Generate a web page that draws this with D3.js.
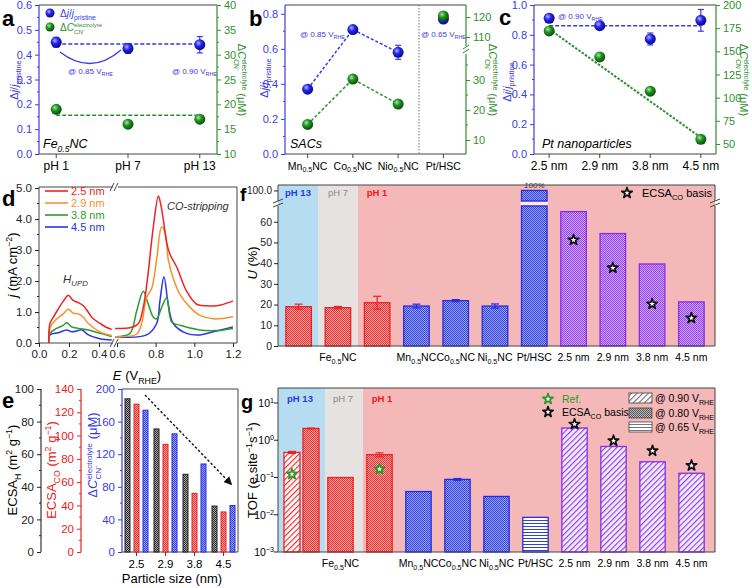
<!DOCTYPE html>
<html><head><meta charset="utf-8">
<script src="https://cdn.jsdelivr.net/npm/d3@7"></script>
<style>body{margin:0;background:#fff}svg{display:block}text{font-family:"Liberation Sans",Arial,sans-serif;white-space:pre}</style>
</head><body><svg id="c" width="752" height="588"></svg>
<script>
// ---------------- DATA ----------------
// panel a
const phLabels = ["pH 1", "pH 7", "pH 13"];
const aDj = [0.45, 0.425, 0.44];
const aDjErr = [0.02, 0.02, 0.033];
const aDC = [19, 16, 17];
const aDjMean = 0.443, aDCMean = 17.8;
// panel b
const sacLabels = ["Mn_{0.5}NC", "Co_{0.5}NC", "Nio_{0.5}NC", "Pt/HSC"];
const bDj = [0.37, 0.71, 0.58, 0.77];
const bDjErr = [0.015, 0.01, 0.04, 0.02];
const bDC = [15.2, 30.3, 22, 120.5];
// panel c
const sizeLabels = ["2.5 nm", "2.9 nm", "3.8 nm", "4.5 nm"];
const cDj = [0.911, 0.861, 0.772, 0.897];
const cDjErr = [0.01, 0.01, 0.04, 0.073];
const cDC = [172, 144, 107, 55];
const cDjMean = 0.86, cDCFit = [174, 57];
// panel d  ([E (V), j (mA cm-2)])
const dSizes = ["2.5 nm", "2.9 nm", "3.8 nm", "4.5 nm"];
const hupd25 = [[0.065,0],[0.073,0.63],[0.095,0.83],[0.129,1.1],[0.162,1.35],[0.196,1.54],[0.225,1.38],[0.262,1.3],[0.296,1.2],[0.329,0.99],[0.362,0.78],[0.407,0.63],[0.451,0.5],[0.485,0.44]];
const hupd29 = [[0.065,0],[0.073,0.47],[0.108,0.73],[0.162,0.94],[0.196,1.09],[0.229,0.96],[0.262,0.94],[0.296,0.83],[0.329,0.63],[0.407,0.36],[0.485,0.24]];
const hupd38 = [[0.065,0],[0.073,0.31],[0.118,0.47],[0.162,0.57],[0.185,0.65],[0.218,0.52],[0.262,0.47],[0.329,0.42],[0.407,0.31],[0.485,0.21]];
const hupd45 = [[0.065,0],[0.073,0.26],[0.129,0.33],[0.185,0.42],[0.218,0.36],[0.262,0.4],[0.285,0.43],[0.329,0.26],[0.407,0.14],[0.485,0.1]];
const cos25 = [[0.59,0.47],[0.667,0.49],[0.71,0.62],[0.736,1.15],[0.76,2.2],[0.788,3.75],[0.814,4.74],[0.826,4.48],[0.84,3.96],[0.857,3.23],[0.874,2.86],[0.909,2.45],[0.96,1.67],[1.012,1.25],[1.064,1.2],[1.116,1.2],[1.2,1.35]];
const cos29 = [[0.59,0.2],[0.702,0.29],[0.727,0.62],[0.753,1.46],[0.78,1.77],[0.805,2.7],[0.831,3.75],[0.85,3.54],[0.865,2.7],[0.891,2.08],[0.926,1.56],[0.978,1.15],[1.029,0.89],[1.098,0.78],[1.2,0.85]];
const cos38 = [[0.59,0.2],[0.667,0.31],[0.702,1.04],[0.736,1.67],[0.762,1.25],[0.788,0.83],[0.805,0.78],[0.831,1.15],[0.857,1.46],[0.883,0.68],[0.926,0.57],[1.029,0.42],[1.116,0.4],[1.2,0.47]];
const cos45 = [[0.59,0.2],[0.753,0.26],[0.805,0.63],[0.822,1.35],[0.843,2.14],[0.865,1.25],[0.891,0.63],[0.96,0.31],[1.029,0.26],[1.098,0.36],[1.2,0.52]];
// panel e
const eSizes = ["2.5", "2.9", "3.8", "4.5"];
const eEcsaH = [94, 75.5, 47.7, 28.2];
const eEcsaCO = [127, 92.5, 50.4, 34.4];
const eDC = [174, 145, 108, 57];
// panel f
const catLabels = ["", "Fe_{0.5}NC", "", "Mn_{0.5}NC", "Co_{0.5}NC", "Ni_{0.5}NC", "Pt/HSC", "2.5 nm", "2.9 nm", "3.8 nm", "4.5 nm"];
const catGroup = ["red","red","red","blue","blue","blue","blue","purple","purple","purple","purple"];
const fU = [19.0, 18.5, 20.9, 19.3, 21.9, 19.3, 100, 64.9, 54.3, 39.6, 21.3];
const fUErr = [1.2, 0.6, 3.1, 0.9, 0.5, 1.0, 0, 0, 0, 0, 0];
const fStarU = [null, null, null, null, null, null, null, 51.2, 37.7, 20.3, 13.5];
// panel g
const gTOF = [2.07, 0.10, 0.41, 0.042, 0.089, 0.031, 0.0085, 2.13, 0.68, 0.264, 0.13];
const gTOFErr = [0.05, 0, 0.05, 0, 0.005, 0, 0, 0, 0, 0, 0];
const gPotential = ["0.80","0.80","0.80","0.80","0.80","0.80","0.65","0.90","0.90","0.90","0.90"];
const gPh13At090 = [0.47, 0.03];
const gRefStars = [0.123, null, 0.168];
const gStarTOF = [null, null, null, null, null, null, null, 2.7, 0.97, 0.52, 0.21];

// ---------------- HELPERS ----------------
const FONT = '"Liberation Sans", Arial, sans-serif';
const BLUE = "#3b3be4", GREEN = "#2f8f2f", FR = "#444";
const svg = d3.select("#c");
svg.append("rect").attr("width", 752).attr("height", 588).attr("fill", "#fff");
const defs = svg.append("defs");

function checker(id, base, dot) {
  const p = defs.append("pattern").attr("id", id).attr("patternUnits", "userSpaceOnUse").attr("width", 2).attr("height", 2);
  p.append("rect").attr("width", 2).attr("height", 2).attr("fill", base);
  p.append("rect").attr("width", 1).attr("height", 1).attr("fill", dot);
  p.append("rect").attr("x", 1).attr("y", 1).attr("width", 1).attr("height", 1).attr("fill", dot);
}
function diag(id, base, line, sp = 4, w = 1.2) {
  const p = defs.append("pattern").attr("id", id).attr("patternUnits", "userSpaceOnUse").attr("width", sp).attr("height", sp).attr("patternTransform", "rotate(45)");
  p.append("rect").attr("width", sp).attr("height", sp).attr("fill", base);
  p.append("line").attr("x1", 0.6).attr("y1", 0).attr("x2", 0.6).attr("y2", sp).attr("stroke", line).attr("stroke-width", w);
}
function hlines(id, base, line) {
  const p = defs.append("pattern").attr("id", id).attr("patternUnits", "userSpaceOnUse").attr("width", 4).attr("height", 3);
  p.append("rect").attr("width", 4).attr("height", 3).attr("fill", base);
  p.append("line").attr("x1", 0).attr("y1", 1.5).attr("x2", 4).attr("y2", 1.5).attr("stroke", line).attr("stroke-width", 1);
}
checker("chkred", "#f8a4a4", "#ec3434");
checker("chkblue", "#9aa4f6", "#3444e2");
checker("chkpurple", "#cfa6fa", "#9444ee");
checker("chkblack", "#aaaaaa", "#2a2a2a");
checker("chkgray", "#bbbbbb", "#555555");
diag("diagred", "#ffffff", "#ee3030");
diag("diagpurple", "#f6eeff", "#9040ee");
diag("diaggray", "#ffffff", "#777777");
hlines("hlblue", "#ffffff", "#3040e0");
hlines("hlgray", "#ffffff", "#777777");
function sphGrad(id, c0, c1, c2) {
  const g = defs.append("radialGradient").attr("id", id).attr("cx", "38%").attr("cy", "35%").attr("r", "65%");
  g.append("stop").attr("offset", "0").attr("stop-color", c0);
  g.append("stop").attr("offset", "0.45").attr("stop-color", c1);
  g.append("stop").attr("offset", "1").attr("stop-color", c2);
}
sphGrad("sphB", "#b0b4ff", "#2424f0", "#08088a");
sphGrad("sphG", "#a8e6a8", "#1f931f", "#0b4f0b");
const colFill = { red: "url(#chkred)", blue: "url(#chkblue)", purple: "url(#chkpurple)" };
const colEdge = { red: "#ea2222", blue: "#2a2ae0", purple: "#8a2be8" };

function mk(s) {
  const parts = []; const re = /([_^~])\{([^}]*)\}/g; let last = 0, m;
  while ((m = re.exec(s))) {
    if (m.index > last) parts.push({ t: s.slice(last, m.index) });
    parts.push(m[1] === "_" ? { t: m[2], sub: 1 } : m[1] === "^" ? { t: m[2], sup: 1 } : { t: m[2], it: 1 });
    last = re.lastIndex;
  }
  if (last < s.length) parts.push({ t: s.slice(last) });
  return parts;
}
function rich(parent, parts, o = {}) {
  const size = o.size || 11, fill = o.fill || "#000";
  const g = parent.append("g").attr("transform", `translate(${o.x || 0},${o.y || 0}) rotate(${o.rotate || 0})`);
  const inner = g.append("g");
  let cx = 0;
  for (const p0 of parts) {
    const p = typeof p0 === "string" ? { t: p0 } : p0;
    if (p.stack) {
      const fs2 = size * 0.62;
      const a = inner.append("text").attr("x", cx).attr("y", -size * 0.36).attr("font-size", fs2).attr("fill", p.fill || fill).text(p.stack[0]);
      const b = inner.append("text").attr("x", cx).attr("y", size * 0.32).attr("font-size", fs2).attr("fill", p.fill || fill).text(p.stack[1]);
      cx += Math.max(a.node().getComputedTextLength(), b.node().getComputedTextLength());
      continue;
    }
    const fs = (p.sub || p.sup) ? size * 0.68 : size;
    const dy = p.sub ? size * 0.28 : p.sup ? -size * 0.4 : 0;
    const t = inner.append("text").attr("x", cx).attr("y", dy).attr("font-size", fs).attr("fill", p.fill || fill)
      .attr("font-style", (p.it || o.italic) ? "italic" : null).attr("font-weight", (p.b || o.bold) ? "bold" : null).text(p.t);
    cx += t.node().getComputedTextLength();
  }
  const off = o.anchor === "middle" ? -cx / 2 : o.anchor === "end" ? -cx : 0;
  inner.attr("transform", `translate(${off},0)`);
  return g;
}
function axis(gen, tx, ty, color, size = 11) {
  const a = svg.append("g").attr("transform", `translate(${tx},${ty})`).call(gen);
  a.attr("font-family", FONT).attr("font-size", size);
  a.select(".domain").remove();
  a.selectAll(".tick line").attr("stroke", color);
  a.selectAll(".tick text").attr("fill", color);
  return a;
}
function minorY(scale, vals, x, dir, color, len = 2) {
  svg.append("g").selectAll("line").data(vals).join("line")
    .attr("x1", x).attr("x2", x + dir * len).attr("y1", d => scale(d)).attr("y2", d => scale(d)).attr("stroke", color);
}
function line(x1, y1, x2, y2, color, w = 1, dash = null) {
  return svg.append("line").attr("x1", x1).attr("y1", y1).attr("x2", x2).attr("y2", y2).attr("stroke", color).attr("stroke-width", w).attr("stroke-dasharray", dash);
}
function sphere(x, y, c, r = 5.5) { svg.append("circle").attr("cx", x).attr("cy", y).attr("r", r).attr("fill", `url(#sph${c})`); }
function errbar(x, y1, y2, color, cap = 3) {
  line(x, y1, x, y2, color, 1.2); line(x - cap, y1, x + cap, y1, color, 1.2); line(x - cap, y2, x + cap, y2, color, 1.2);
}
function star(x, y, stroke, size = 34) {
  svg.append("path").attr("d", d3.symbol(d3.symbolStar, size)()).attr("transform", `translate(${x},${y})`)
    .attr("fill", "#fff").attr("stroke", stroke).attr("stroke-width", 1.7).attr("stroke-linejoin", "round");
}
function letter(t, x, y, s = 23) { svg.append("text").attr("x", x).attr("y", y).attr("font-size", s).attr("font-weight", "bold").text(t); }
const djParts = [{ t: "Δ" }, { t: "j", it: 1 }, { t: "/" }, { t: "j", it: 1 }, { t: "pristine", sub: 1 }];
const dcParts = [{ t: "Δ" }, { t: "C", it: 1 }, { stack: ["electrolyte", "CN⁻"] }, { t: " (μM)" }];
function frameLR(F) {
  line(F.l, F.t, F.r, F.t, FR); line(F.l, F.b, F.r, F.b, FR);
  line(F.l, F.t, F.l, F.b, BLUE, 1.2); line(F.r, F.t, F.r, F.b, GREEN, 1.2);
}
function bottomCat(scale, y, labels, size = 11.5) {
  scale.domain().forEach((d, i) => {
    line(scale(d), y, scale(d), y + 4, FR);
    rich(svg, mk(labels[i]), { x: scale(d), y: y + 15.5, anchor: "middle", size });
  });
}

// ---------------- PANEL a ----------------
{
  const F = { l: 39, r: 217, t: 5, b: 154 };
  const x = d3.scalePoint().domain(phLabels).range([F.l, F.r]).padding(0.24);
  const yL = d3.scaleLinear().domain([0, 0.6]).range([F.b, F.t]);
  const yR = d3.scaleLinear().domain([10, 40]).range([F.b, F.t]);
  frameLR(F);
  axis(d3.axisLeft(yL).tickValues(d3.range(0, 0.61, 0.1)).tickFormat(d3.format(".1f")).tickSize(4), F.l, 0, BLUE);
  minorY(yL, d3.range(0.05, 0.6, 0.1), F.l, -1, BLUE);
  axis(d3.axisRight(yR).tickValues(d3.range(10, 41, 5)).tickSize(4), F.r, 0, GREEN);
  minorY(yR, d3.range(12.5, 40, 5), F.r, 1, GREEN);
  bottomCat(x, F.b, phLabels, 12);
  line(x(phLabels[0]), yL(aDjMean), x(phLabels[2]), yL(aDjMean), BLUE, 1.5, "4,2");
  line(x(phLabels[0]), yR(aDCMean), x(phLabels[2]), yR(aDCMean), GREEN, 1.5, "4,2");
  phLabels.forEach((p, i) => {
    errbar(x(p), yL(aDj[i] - aDjErr[i]), yL(aDj[i] + aDjErr[i]), BLUE);
    sphere(x(p), yL(aDj[i]), "B");
    sphere(x(p), yR(aDC[i]), "G");
  });
  svg.append("path").attr("d", "M60,52 Q91,76 121,50").attr("fill", "none").attr("stroke", BLUE).attr("stroke-width", 1.3);
  rich(svg, [{ t: "@ 0.85 V" }, { t: "RHE", sub: 1 }], { x: 68, y: 74, size: 8, fill: BLUE });
  rich(svg, [{ t: "@ 0.90 V" }, { t: "RHE", sub: 1 }], { x: 172, y: 74, size: 8, fill: BLUE });
  sphere(50, 13, "B", 4.5); sphere(50, 27, "G", 4.5);
  rich(svg, djParts, { x: 60, y: 17, size: 10, fill: BLUE });
  rich(svg, [{ t: "Δ" }, { t: "C", it: 1 }, { stack: ["electrolyte", "CN⁻"] }], { x: 60, y: 31, size: 10, fill: GREEN });
  rich(svg, [{ t: "Fe", it: 1 }, { t: "0.5", sub: 1, it: 1 }, { t: "NC", it: 1 }], { x: 43, y: 148, size: 12.5 });
  rich(svg, djParts, { x: 18, y: 80, rotate: -90, anchor: "middle", size: 11, fill: BLUE });
  rich(svg, dcParts, { x: 238, y: 80, rotate: 90, anchor: "middle", size: 11, fill: GREEN });
  letter("a", 2, 26, 22);
}

// ---------------- PANEL b ----------------
{
  const F = { l: 285, r: 466, t: 5, b: 154 };
  const x = d3.scalePoint().domain(sacLabels).range([F.l, F.r]).padding(0.5);
  const yL = d3.scaleLinear().domain([0, 0.85]).range([F.b, F.t]);
  const yLo = d3.scaleLinear().domain([5.33, 38.67]).range([F.b, 54]);
  const yHi = d3.scaleLinear().domain([105.5, 126]).range([46, F.t]);
  line(F.l, F.t, F.r, F.t, FR); line(F.l, F.b, F.r, F.b, FR);
  line(F.l, F.t, F.l, F.b, BLUE, 1.2);
  line(F.r, F.b, F.r, 54, GREEN, 1.2); line(F.r, 46, F.r, F.t, GREEN, 1.2);
  line(F.r - 3, 53, F.r + 3, 49, GREEN, 1); line(F.r - 3, 49, F.r + 3, 45, GREEN, 1);
  axis(d3.axisLeft(yL).tickValues(d3.range(0, 0.81, 0.2)).tickFormat(d3.format(".1f")).tickSize(4), F.l, 0, BLUE);
  minorY(yL, d3.range(0.1, 0.85, 0.2), F.l, -1, BLUE);
  axis(d3.axisRight(yLo).tickValues([10, 20, 30]).tickSize(4), F.r, 0, GREEN);
  minorY(yLo, [15, 25, 35], F.r, 1, GREEN);
  axis(d3.axisRight(yHi).tickValues([110, 120]).tickSize(4), F.r, 0, GREEN);
  line(419, F.t, 419, F.b, "#888", 1.2, "1.5,1.5");
  bottomCat(x, F.b, sacLabels, 10.5);
  const pts = sacLabels.slice(0, 3);
  svg.append("path").attr("d", d3.line()(pts.map((p, i) => [x(p), yL(bDj[i])]))).attr("fill", "none").attr("stroke", BLUE).attr("stroke-width", 1.5).attr("stroke-dasharray", "3,2");
  svg.append("path").attr("d", d3.line()(pts.map((p, i) => [x(p), yLo(bDC[i])]))).attr("fill", "none").attr("stroke", GREEN).attr("stroke-width", 1.5).attr("stroke-dasharray", "3,2");
  sacLabels.forEach((p, i) => {
    errbar(x(p), yL(bDj[i] - bDjErr[i]), yL(bDj[i] + bDjErr[i]), BLUE);
    sphere(x(p), yL(bDj[i]), "B");
    sphere(x(p), i < 3 ? yLo(bDC[i]) : yHi(bDC[i]), "G");
  });
  rich(svg, [{ t: "@ 0.85 V" }, { t: "RHE", sub: 1 }], { x: 300, y: 37, size: 8, fill: BLUE });
  rich(svg, [{ t: "@ 0.65 V" }, { t: "RHE", sub: 1 }], { x: 421, y: 37, size: 8, fill: BLUE });
  svg.append("text").attr("x", 290).attr("y", 148).attr("font-size", 12.5).attr("font-style", "italic").text("SACs");
  rich(svg, djParts, { x: 268, y: 78, rotate: -90, anchor: "middle", size: 11, fill: BLUE });
  rich(svg, dcParts, { x: 489, y: 80, rotate: 90, anchor: "middle", size: 11, fill: GREEN });
  letter("b", 249, 26, 22);
}

// ---------------- PANEL c ----------------
{
  const F = { l: 534, r: 716, t: 5, b: 154 };
  const x = d3.scalePoint().domain(sizeLabels).range([F.l, F.r]).padding(0.3);
  const yL = d3.scaleLinear().domain([0, 1]).range([F.b, F.t]);
  const yR = d3.scaleLinear().domain([39.2, 200]).range([F.b, F.t]);
  frameLR(F);
  axis(d3.axisLeft(yL).tickValues(d3.range(0, 1.01, 0.2)).tickFormat(d3.format(".1f")).tickSize(4), F.l, 0, BLUE);
  minorY(yL, d3.range(0.1, 1, 0.2), F.l, -1, BLUE);
  axis(d3.axisRight(yR).tickValues(d3.range(50, 201, 25)).tickSize(4), F.r, 0, GREEN);
  bottomCat(x, F.b, sizeLabels, 12);
  line(x(sizeLabels[0]), yL(cDjMean), x(sizeLabels[3]), yL(cDjMean), BLUE, 1.5, "4,2");
  line(x(sizeLabels[0]), yR(cDCFit[0]), x(sizeLabels[3]), yR(cDCFit[1]), GREEN, 2, "2.5,1.5");
  sizeLabels.forEach((p, i) => {
    errbar(x(p), yL(cDj[i] - cDjErr[i]), yL(cDj[i] + cDjErr[i]), BLUE);
    sphere(x(p), yL(cDj[i]), "B");
    sphere(x(p), yR(cDC[i]), "G");
  });
  rich(svg, [{ t: "@ 0.90 V" }, { t: "RHE", sub: 1 }], { x: 558, y: 19, size: 8, fill: BLUE });
  svg.append("text").attr("x", 542).attr("y", 148).attr("font-size", 12.5).attr("font-style", "italic").text("Pt nanoparticles");
  rich(svg, djParts, { x: 511, y: 82, rotate: -90, anchor: "middle", size: 11, fill: BLUE });
  rich(svg, dcParts, { x: 740, y: 80, rotate: 90, anchor: "middle", size: 11, fill: GREEN });
  letter("c", 499, 25, 22);
}

// ---------------- PANEL d ----------------
{
  const F = { l: 39, r: 237, t: 187, b: 343 };
  const xL = d3.scaleLinear().domain([0, 0.5]).range([39, 114]);
  const xR = d3.scaleLinear().domain([0.6, 1.2]).range([117, 233]);
  const y = d3.scaleLinear().domain([0, 5]).range([343, 188]);
  line(F.l, F.t, 113, F.t, FR); line(118, F.t, F.r, F.t, FR);
  line(F.l, F.b, 113, F.b, FR); line(118, F.b, F.r, F.b, FR);
  line(F.l, F.t, F.l, F.b, FR); line(F.r, F.t, F.r, F.b, FR);
  [F.t, F.b].forEach(yy => { line(110, yy + 4, 114, yy - 4, FR); line(114, yy + 4, 118, yy - 4, FR); });
  axis(d3.axisLeft(y).tickValues(d3.range(0, 6)).tickSize(4), F.l, 0, "#222", 11.5);
  minorY(y, d3.range(0.5, 5, 1), F.l, -1, "#222");
  axis(d3.axisBottom(xL).tickValues([0, 0.2, 0.4]).tickFormat(d3.format(".1f")).tickSize(4), 0, F.b, "#222", 11.5);
  axis(d3.axisBottom(xR).tickValues([0.6, 0.8, 1.0, 1.2]).tickFormat(d3.format(".1f")).tickSize(4), 0, F.b, "#222", 11.5);
  const cols = ["#ee2222", "#f5932a", "#2e9a2e", "#2a35e0"];
  const hup = [hupd25, hupd29, hupd38, hupd45], cos = [cos25, cos29, cos38, cos45];
  const cv = d3.curveCatmullRom.alpha(0.5);
  for (let i = 3; i >= 0; i--) {
    svg.append("path").attr("d", d3.line().x(d => xL(d[0])).y(d => y(d[1])).curve(cv)(hup[i])).attr("fill", "none").attr("stroke", cols[i]).attr("stroke-width", 1.5);
    svg.append("path").attr("d", d3.line().x(d => xR(d[0])).y(d => y(d[1])).curve(cv)(cos[i])).attr("fill", "none").attr("stroke", cols[i]).attr("stroke-width", 1.5);
  }
  dSizes.forEach((s, i) => {
    line(45, 195 + i * 12 - 4, 68, 195 + i * 12 - 4, cols[i], 1.6);
    svg.append("text").attr("x", 71).attr("y", 195 + i * 12).attr("font-size", 11).attr("fill", cols[i]).text(s);
  });
  svg.append("text").attr("x", 167).attr("y", 210).attr("font-size", 11).attr("font-style", "italic").attr("fill", "#333").text("CO-stripping");
  rich(svg, [{ t: "H", it: 1 }, { t: "UPD", sub: 1, it: 1 }], { x: 63, y: 283, size: 11.5, fill: "#333" });
  rich(svg, [{ t: "j", it: 1 }, { t: " (mA cm" }, { t: "−2", sup: 1 }, { t: ")" }], { x: 17, y: 265, rotate: -90, anchor: "middle", size: 13 });
  rich(svg, [{ t: "E", it: 1 }, { t: " (V" }, { t: "RHE", sub: 1 }, { t: ")" }], { x: 137, y: 380, anchor: "middle", size: 13 });
  letter("d", 2, 206, 22);
}

// ---------------- PANEL e ----------------
{
  const F = { l: 122, r: 238, t: 389, b: 552 };
  const x = d3.scalePoint().domain(eSizes).range([F.l, F.r]).padding(0.5);
  const yH = d3.scaleLinear().domain([0, 100]).range([F.b, F.t]);
  const yC = d3.scaleLinear().domain([0, 140]).range([F.b, F.t]);
  const yD = d3.scaleLinear().domain([0, 200]).range([F.b, F.t]);
  line(F.l, F.t, F.r, F.t, FR); line(F.l, F.b, F.r, F.b, FR); line(F.r, F.t, F.r, F.b, FR);
  line(F.l, F.t, F.l, F.b, "#3b3be4", 1.2);
  line(41, F.t, 41, F.b, "#333", 1.2);
  line(81, F.t, 81, F.b, "#e82020", 1.2);
  axis(d3.axisLeft(yH).tickValues(d3.range(0, 101, 20)).tickSize(4), 41, 0, "#222", 11.5);
  minorY(yH, d3.range(10, 100, 20), 41, -1, "#222");
  axis(d3.axisLeft(yC).tickValues(d3.range(0, 141, 20)).tickSize(4), 81, 0, "#e82020", 11.5);
  minorY(yC, d3.range(10, 140, 20), 81, -1, "#e82020");
  axis(d3.axisLeft(yD).tickValues(d3.range(0, 201, 40)).tickSize(4), F.l, 0, "#3b3be4", 11.5);
  minorY(yD, d3.range(20, 200, 40), F.l, -1, "#3b3be4");
  const bw = 5;
  eSizes.forEach((s, i) => {
    const cx = x(s);
    line(cx, F.b, cx, F.b + 4, FR);
    svg.append("text").attr("x", cx).attr("y", 568).attr("text-anchor", "middle").attr("font-size", 11.5).text(s);
    svg.append("rect").attr("x", cx - 9 - bw / 2).attr("y", yH(eEcsaH[i])).attr("width", bw).attr("height", F.b - yH(eEcsaH[i])).attr("fill", "url(#chkblack)").attr("stroke", "#222").attr("stroke-width", 1);
    svg.append("rect").attr("x", cx - bw / 2).attr("y", yC(eEcsaCO[i])).attr("width", bw).attr("height", F.b - yC(eEcsaCO[i])).attr("fill", "url(#chkred)").attr("stroke", "#e82020").attr("stroke-width", 1);
    svg.append("rect").attr("x", cx + 9 - bw / 2).attr("y", yD(eDC[i])).attr("width", bw).attr("height", F.b - yD(eDC[i])).attr("fill", "url(#chkblue)").attr("stroke", "#2a2ae0").attr("stroke-width", 1);
  });
  defs.append("marker").attr("id", "arr").attr("viewBox", "0 0 10 10").attr("refX", 8).attr("refY", 5).attr("markerWidth", 6).attr("markerHeight", 6).attr("orient", "auto")
    .append("path").attr("d", "M0,0 L10,5 L0,10 z").attr("fill", "#111");
  line(145, 395, 231, 484, "#111", 1.4, "2.5,2").attr("marker-end", "url(#arr)");
  svg.append("text").attr("x", 172).attr("y", 583).attr("text-anchor", "middle").attr("font-size", 13).text("Particle size (nm)");
  rich(svg, [{ t: "ECSA" }, { t: "H", sub: 1 }, { t: " (m" }, { t: "2", sup: 1 }, { t: " g" }, { t: "−1", sup: 1 }, { t: ")" }], { x: 17, y: 470, rotate: -90, anchor: "middle", size: 13 });
  rich(svg, [{ t: "ECSA" }, { t: "CO", sub: 1 }, { t: " (m" }, { t: "2", sup: 1 }, { t: " g" }, { t: "−1", sup: 1 }, { t: ")" }], { x: 56, y: 470, rotate: -90, anchor: "middle", size: 13, fill: "#e82020" });
  rich(svg, dcParts, { x: 97, y: 455, rotate: -90, anchor: "middle", size: 13, fill: "#3b3be4" });
  letter("e", 2, 408, 22);
}

// ---------------- PANEL f ----------------
const idx = d3.range(catLabels.length);
{
  const F = { l: 278, r: 715, t: 185, b: 346 };
  const x = d3.scaleBand().domain(idx).range([278, 712]).paddingInner(0.35).paddingOuter(0.2);
  const yLo = d3.scaleLinear().domain([0, 67.6]).range([F.b, 206]);
  const yHi = d3.scaleLinear().domain([96.5, 101.8]).range([201, F.t]);
  svg.append("rect").attr("x", 278).attr("y", F.t).attr("width", 40).attr("height", F.b - F.t).attr("fill", "#b6dcf1");
  svg.append("rect").attr("x", 318).attr("y", F.t).attr("width", 40).attr("height", F.b - F.t).attr("fill", "#e6e2e1");
  svg.append("rect").attr("x", 358).attr("y", F.t).attr("width", F.r - 358).attr("height", F.b - F.t).attr("fill", "#f5b8b8");
  svg.append("text").attr("x", 298).attr("y", 196).attr("text-anchor", "middle").attr("font-size", 9.5).attr("font-weight", "bold").attr("fill", "#2a3ae0").text("pH 13");
  svg.append("text").attr("x", 338).attr("y", 196).attr("text-anchor", "middle").attr("font-size", 9.5).attr("fill", "#8a8a8a").text("pH 7");
  svg.append("text").attr("x", 377).attr("y", 196).attr("text-anchor", "middle").attr("font-size", 9.5).attr("font-weight", "bold").attr("fill", "#e82020").text("pH 1");
  idx.forEach(i => {
    const g = catGroup[i], bx = x(i), w = x.bandwidth();
    if (fU[i] > 67.6) {
      svg.append("rect").attr("x", bx).attr("y", 206).attr("width", w).attr("height", F.b - 206).attr("fill", colFill[g]).attr("stroke", colEdge[g]).attr("stroke-width", 1.3);
      svg.append("rect").attr("x", bx).attr("y", yHi(fU[i])).attr("width", w).attr("height", 201 - yHi(fU[i])).attr("fill", colFill[g]).attr("stroke", colEdge[g]).attr("stroke-width", 1.3);
      svg.append("rect").attr("x", bx - 1).attr("y", 202).attr("width", w + 2).attr("height", 3).attr("fill", "#fbeaea");
      svg.append("text").attr("x", bx + w / 2).attr("y", 188).attr("text-anchor", "middle").attr("font-size", 8).attr("font-style", "italic").attr("fill", "#333").text("100%");
    } else {
      svg.append("rect").attr("x", bx).attr("y", yLo(fU[i])).attr("width", w).attr("height", F.b - yLo(fU[i])).attr("fill", colFill[g]).attr("stroke", colEdge[g]).attr("stroke-width", 1.3);
    }
    if (fUErr[i] > 0) errbar(bx + w / 2, yLo(fU[i] - fUErr[i]), yLo(fU[i] + fUErr[i]), colEdge[g], 4);
    if (fStarU[i] != null) star(bx + w / 2, yLo(fStarU[i]), "#111");
    if (catLabels[i]) rich(svg, mk(catLabels[i]), { x: bx + w / 2, y: 361, anchor: "middle", size: 10.5 });
  });
  line(F.l, F.t, F.r, F.t, FR); line(F.l, F.b, F.r, F.b, FR);
  line(F.l, F.t, F.l, 201, FR); line(F.l, 206, F.l, F.b, FR);
  line(F.r, F.t, F.r, 201, FR); line(F.r, 206, F.r, F.b, FR);
  [F.l, F.r].forEach(xx => { line(xx - 5, 203, xx + 5, 199, FR); line(xx - 5, 207, xx + 5, 203, FR); });
  axis(d3.axisLeft(yLo).tickValues(d3.range(0, 61, 10)).tickSize(4).tickPadding(2), F.l, 0, "#222", 10.5);
  axis(d3.axisLeft(yHi).tickValues([100]).tickSize(4).tickPadding(2), F.l, 0, "#222", 10);
  star(627, 193, "#111");
  rich(svg, [{ t: "ECSA" }, { t: "CO", sub: 1 }, { t: " basis" }], { x: 642, y: 197, size: 11 });
  rich(svg, [{ t: "U", it: 1 }, { t: " (%)" }], { x: 257, y: 263, rotate: -90, anchor: "middle", size: 13 });
  svg.append("text").attr("x", 240).attr("y", 201).attr("font-size", 19).attr("font-weight", "bold").text("f");
}

// ---------------- PANEL g ----------------
{
  const F = { l: 278, r: 715, t: 388, b: 552 };
  const x = d3.scaleBand().domain(idx).range([281, 712]).paddingInner(0.35).paddingOuter(0.2);
  const y = d3.scaleLog().domain([1e-3, 10]).range([F.b, 403]);
  svg.append("rect").attr("x", 278).attr("y", F.t).attr("width", 47).attr("height", F.b - F.t).attr("fill", "#b6dcf1");
  svg.append("rect").attr("x", 325).attr("y", F.t).attr("width", 38).attr("height", F.b - F.t).attr("fill", "#e6e2e1");
  svg.append("rect").attr("x", 363).attr("y", F.t).attr("width", F.r - 363).attr("height", F.b - F.t).attr("fill", "#f5b8b8");
  svg.append("text").attr("x", 300).attr("y", 402).attr("text-anchor", "middle").attr("font-size", 9.5).attr("font-weight", "bold").attr("fill", "#2a3ae0").text("pH 13");
  svg.append("text").attr("x", 343).attr("y", 402).attr("text-anchor", "middle").attr("font-size", 9.5).attr("fill", "#8a8a8a").text("pH 7");
  svg.append("text").attr("x", 382).attr("y", 402).attr("text-anchor", "middle").attr("font-size", 9.5).attr("font-weight", "bold").attr("fill", "#e82020").text("pH 1");
  const patFor = (g, pot) => pot === "0.90" ? (g === "red" ? "url(#diagred)" : "url(#diagpurple)") : pot === "0.65" ? "url(#hlblue)" : colFill[g];
  idx.forEach(i => {
    const g = catGroup[i], w = x.bandwidth(), cx = x(i) + w / 2;
    let bx = x(i), bw = w;
    if (i === 0) {
      const hx = cx - 17.5;
      svg.append("rect").attr("x", hx).attr("y", y(gPh13At090[0])).attr("width", 16).attr("height", F.b - y(gPh13At090[0])).attr("fill", "url(#diagred)").attr("stroke", colEdge.red).attr("stroke-width", 1.3);
      errbar(hx + 8, y(gPh13At090[0] - gPh13At090[1]), y(gPh13At090[0] + gPh13At090[1]), colEdge.red, 4);
      bx = cx + 1.5; bw = 16;
    }
    svg.append("rect").attr("x", bx).attr("y", y(gTOF[i])).attr("width", bw).attr("height", F.b - y(gTOF[i])).attr("fill", patFor(g, gPotential[i])).attr("stroke", colEdge[g]).attr("stroke-width", 1.3);
    if (gTOFErr[i] > 0) errbar(bx + bw / 2, y(gTOF[i] - gTOFErr[i]), y(gTOF[i] + gTOFErr[i]), colEdge[g], 4);
    if (gRefStars[i] != null) star(i === 0 ? cx - 9.5 : cx, y(gRefStars[i]), "#2a9a2a");
    if (gStarTOF[i] != null) star(cx, y(gStarTOF[i]), "#111");
    if (catLabels[i]) rich(svg, mk(catLabels[i]), { x: cx, y: 567, anchor: "middle", size: 10.5 });
  });
  line(F.l, F.t, F.r, F.t, FR); line(F.l, F.b, F.r, F.b, FR);
  line(F.l, F.t, F.l, F.b, FR); line(F.r, F.t, F.r, F.b, FR);
  [-3, -2, -1, 0, 1].forEach(e => {
    const yy = y(Math.pow(10, e));
    line(F.l - 4, yy, F.l, yy, "#222");
    rich(svg, [{ t: "10" }, { t: e < 0 ? "−" + (-e) : String(e), sup: 1 }], { x: 274, y: yy + 4, anchor: "end", size: 10.5 });
  });
  star(548, 399, "#2a9a2a");
  svg.append("text").attr("x", 562).attr("y", 403).attr("font-size", 10.5).attr("fill", "#2a9a2a").text("Ref.");
  star(548, 412, "#111");
  rich(svg, [{ t: "ECSA" }, { t: "CO", sub: 1 }, { t: " basis" }], { x: 562, y: 416, size: 10.5 });
  [["url(#diaggray)", "0.90", 393], ["url(#chkgray)", "0.80", 408], ["url(#hlgray)", "0.65", 422]].forEach(([f, v, yy]) => {
    svg.append("rect").attr("x", 629).attr("y", yy).attr("width", 23).attr("height", 10).attr("fill", f).attr("stroke", "#444").attr("stroke-width", 0.8);
    rich(svg, [{ t: "@ " + v + " V" }, { t: "RHE", sub: 1 }], { x: 655, y: yy + 9, size: 10.5 });
  });
  rich(svg, [{ t: "TOF (e site" }, { t: "−1", sup: 1 }, { t: "s" }, { t: "−1", sup: 1 }, { t: ")" }], { x: 257, y: 470, rotate: -90, anchor: "middle", size: 13 });
  svg.append("text").attr("x", 241).attr("y", 409).attr("font-size", 20).attr("font-weight", "bold").text("g");
}
</script></body></html>
